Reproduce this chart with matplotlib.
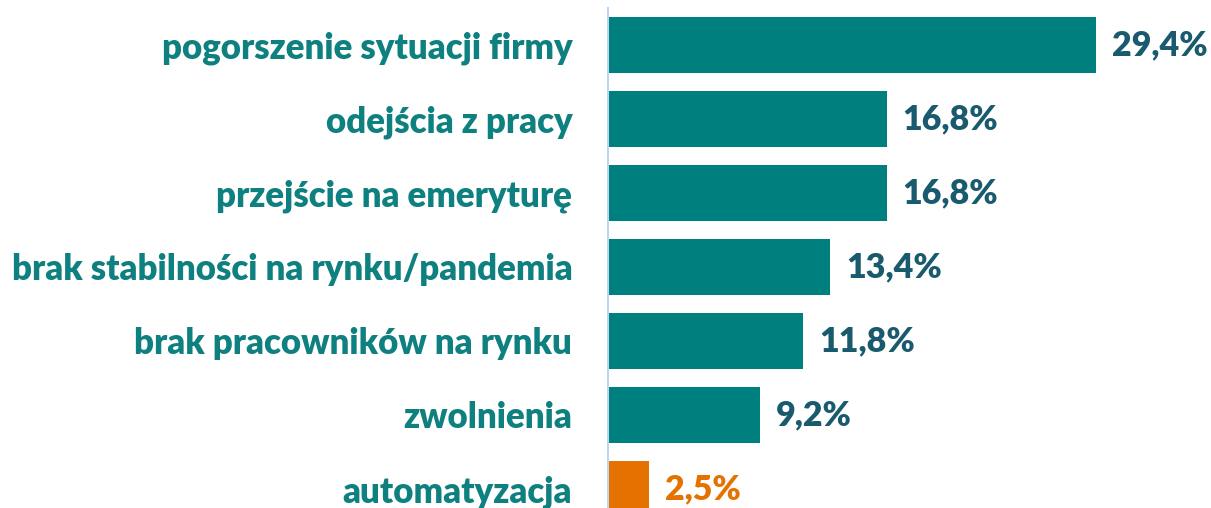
import matplotlib
matplotlib.use('Agg')
import matplotlib.pyplot as plt

categories = [
    'pogorszenie sytuacji firmy',
    'odejścia z pracy',
    'przejście na emeryturę',
    'brak stabilności na rynku/pandemia',
    'brak pracowników na rynku',
    'zwolnienia',
    'automatyzacja',
]
values = [29.4, 16.8, 16.8, 13.4, 11.8, 9.2, 2.5]
labels = ['29,4%', '16,8%', '16,8%', '13,4%', '11,8%', '9,2%', '2,5%']

teal = '#007f7f'
orange = '#e57200'
bar_colors = [teal] * 6 + [orange]
value_colors = ['#1a5a6e'] * 6 + [orange]

plt.rcParams['font.family'] = ['Lato', 'DejaVu Sans']

fig = plt.figure(figsize=(12.11, 5.08), dpi=100)
ax = fig.add_axes([607 / 1211, 0, 1 - 607 / 1211, 1])

pos = list(range(len(categories)))
bars = ax.barh(pos, values, height=0.757, color=bar_colors)

ax.set_ylim(6.257, -0.608)
ax.set_xlim(0, 36.3)

for spine in ax.spines.values():
    spine.set_visible(False)
ax.axvline(0, ymin=0, ymax=0.984, color='#bcd5f5', linewidth=2.2)

ax.set_xticks([])
ax.set_yticks(pos)
ax.set_yticklabels(categories, fontsize=25, fontweight='heavy', color='#0f8080')
ax.tick_params(axis='y', length=0, pad=25)

for b, lab, c in zip(bars, labels, value_colors):
    ax.annotate(lab, (b.get_width(), b.get_y() + b.get_height() / 2),
                xytext=(16, 0), textcoords='offset pixels',
                va='center', ha='left', fontsize=24.5, fontweight='heavy', color=c)

fig.savefig('out.png', dpi=100)
